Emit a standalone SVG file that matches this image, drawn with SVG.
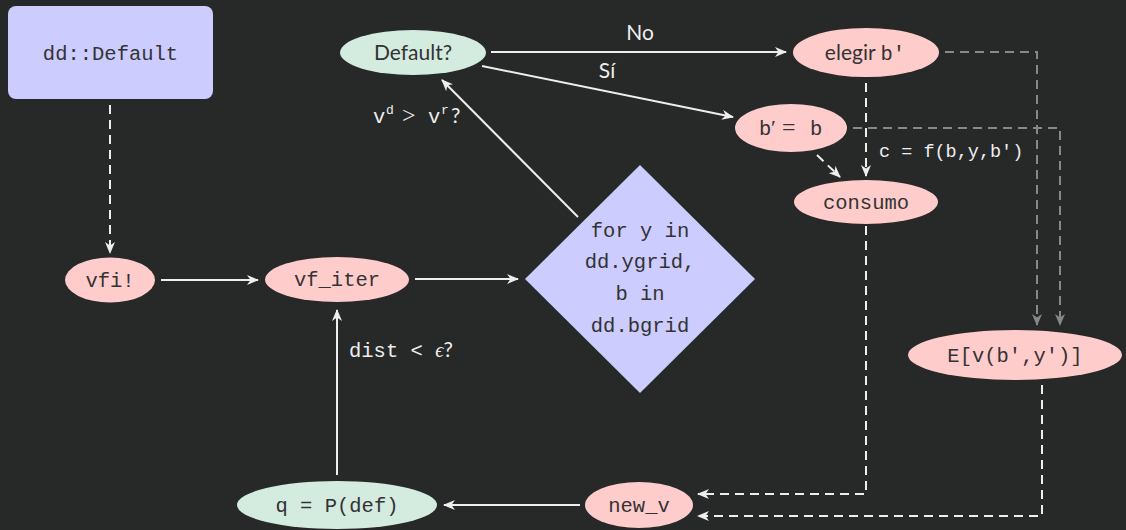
<svg xmlns="http://www.w3.org/2000/svg" width="1126" height="530" viewBox="0 0 1126 530">
<defs>
<marker id="aw" viewBox="0 0 12 10" refX="11" refY="5" markerWidth="12" markerHeight="10" markerUnits="userSpaceOnUse" orient="auto">
<path d="M0,0 L12,5 L0,10 L3.5,5 Z" fill="#eeeeee"/>
</marker>
<marker id="ag" viewBox="0 0 12 10" refX="11" refY="5" markerWidth="12" markerHeight="10" markerUnits="userSpaceOnUse" orient="auto">
<path d="M0,0 L12,5 L0,10 L3.5,5 Z" fill="#888888"/>
</marker>
<style>
.solid{fill:none;stroke:#eeeeee;stroke-width:2;marker-end:url(#aw)}
.dash{fill:none;stroke:#eeeeee;stroke-width:2;stroke-dasharray:9,6;marker-end:url(#aw)}
.gdash{fill:none;stroke:#888888;stroke-width:2;stroke-dasharray:9,6;marker-end:url(#ag)}
.pink{fill:#ffcccc}
.green{fill:#d4ebdf}
.lav{fill:#ccccff}
.mono{font-family:"Liberation Mono","DejaVu Sans Mono",monospace;font-size:20.5px;fill:#333333}
.sans{font-family:Lato,"Noto Sans",sans-serif;font-size:21px;fill:#333333}
.lbl{fill:#eeeeee}
.ser{font-family:"Liberation Serif","DejaVu Serif",serif}
.sup{font-size:13px}
</style>
</defs>
<rect width="1126" height="530" fill="#272828"/>

<g id="connectors">
<line class="dash" x1="110" y1="105" x2="110" y2="253"/>
<line class="solid" x1="161" y1="280" x2="258" y2="280"/>
<line class="solid" x1="415" y1="279" x2="518" y2="279"/>
<line class="solid" x1="578" y1="217" x2="442" y2="80"/>
<line class="solid" x1="491" y1="52" x2="786" y2="52"/>
<line class="solid" x1="482" y1="66" x2="733" y2="117"/>
<line class="dash" x1="866" y1="83" x2="866" y2="176"/>
<line class="dash" x1="817" y1="155" x2="840" y2="177"/>
<polyline class="gdash" points="945,52 1037,52 1037,325"/>
<polyline class="gdash" points="853,128 1060,128 1060,325"/>
<polyline class="dash" points="866,226 866,494 698,494"/>
<polyline class="dash" points="1042,385 1042,516 698,516"/>
<line class="solid" x1="580" y1="505" x2="444" y2="505"/>
<line class="solid" x1="337" y1="475" x2="337" y2="310"/>
<text class="sans lbl" x="640" y="40" text-anchor="middle">No</text>
<text class="sans lbl" x="607" y="78" text-anchor="middle">Sí</text>
<text class="mono lbl" x="373" y="123">v<tspan class="sup" x="386" y="114">d</tspan><tspan class="ser" style="font-size:24px" x="402" y="123">&gt;</tspan><tspan x="428" y="123">v</tspan><tspan class="sup" x="441" y="114">r</tspan><tspan class="sans lbl" x="451" y="123">?</tspan></text>
<text class="mono lbl" x="879" y="157" style="font-size:18.5px">c = f(b,y,b')</text>
<text class="mono lbl" x="349" y="357">dist &lt; <tspan class="ser" font-style="italic">ϵ</tspan><tspan class="sans lbl">?</tspan></text>
</g>

<g id="dd-default">
<rect class="lav" x="8" y="6" width="205" height="93" rx="8"/>
<text class="mono" x="110.5" y="60" text-anchor="middle">dd::Default</text>
</g>
<g id="vfi">
<ellipse class="pink" cx="110" cy="280" rx="45" ry="22.5"/>
<text class="mono" x="110" y="287" text-anchor="middle">vfi!</text>
</g>
<g id="vf-iter">
<ellipse class="pink" cx="337" cy="279.5" rx="72" ry="22.5"/>
<text class="mono" x="337" y="286" text-anchor="middle">vf_iter</text>
</g>
<g id="loop">
<polygon class="lav" points="640,165 755,279 640,393 525,279"/>
<text class="mono" x="640" y="237" text-anchor="middle">for y in</text>
<text class="mono" x="640" y="268" text-anchor="middle">dd.ygrid,</text>
<text class="mono" x="640" y="300" text-anchor="middle">b in</text>
<text class="mono" x="640" y="332" text-anchor="middle">dd.bgrid</text>
</g>
<g id="default-q">
<ellipse class="green" cx="413" cy="52.5" rx="73" ry="22.5"/>
<text class="sans" x="413" y="60" text-anchor="middle">Default?</text>
</g>
<g id="elegir">
<ellipse class="pink" cx="866" cy="52.5" rx="73" ry="24.5"/>
<text class="sans" x="865" y="60" text-anchor="middle">elegir <tspan class="mono">b'</tspan></text>
</g>
<g id="bpb">
<ellipse class="pink" cx="791" cy="128" rx="56" ry="24"/>
<text class="mono" x="759" y="135">b<tspan class="ser" style="font-size:22px" x="771">′</tspan><tspan class="ser" style="font-size:24px" x="782">=</tspan><tspan x="810">b</tspan></text>
</g>
<g id="consumo">
<ellipse class="pink" cx="866" cy="202" rx="72" ry="22"/>
<text class="mono" x="866" y="209" text-anchor="middle">consumo</text>
</g>
<g id="ev">
<ellipse class="pink" cx="1015" cy="355" rx="107" ry="25"/>
<text class="mono" x="1015" y="362" text-anchor="middle">E[v(b',y')]</text>
</g>
<g id="new-v">
<ellipse class="pink" cx="639" cy="505" rx="54" ry="23"/>
<text class="mono" x="639" y="512" text-anchor="middle">new_v</text>
</g>
<g id="q">
<ellipse class="green" cx="337" cy="505" rx="100" ry="24"/>
<text class="mono" x="337" y="512" text-anchor="middle">q = P(def)</text>
</g>
</svg>
